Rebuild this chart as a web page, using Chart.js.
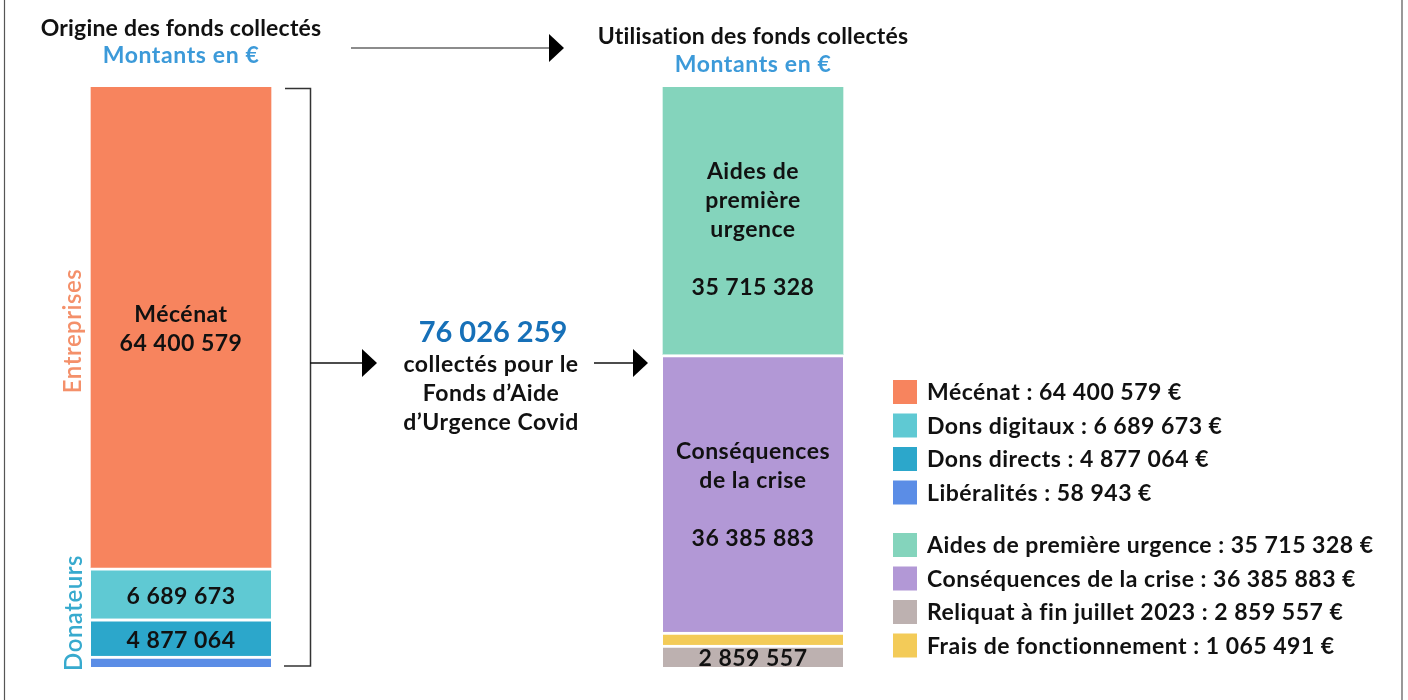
<!DOCTYPE html>
<html>
<head>
<meta charset="utf-8">
<script src="https://cdn.jsdelivr.net/npm/chart.js"></script>
<style>
  html, body { margin: 0; padding: 0; background: #fff; }
  #wrap { position: relative; width: 1408px; height: 700px; }
</style>
</head>
<body>
<div id="wrap"><canvas id="fondsChart" width="1408" height="700"></canvas></div>
<script>
// categories on the x axis (middle one is the empty slot for the total)
var categories = ['Origine des fonds collectés', '', 'Utilisation des fonds collectés'];

// origin of funds (bottom to top of the left bar)
var sourceLabels = ['Libéralités', 'Dons directs', 'Dons digitaux', 'Mécénat'];
var sourceValues = [58943, 4877064, 6689673, 64400579];
var sourceColors = ['#5b8de6', '#2ca7cb', '#5fc9d3', '#f7845e'];

// use of funds (bottom to top of the right bar)
var useLabels = ['Reliquat à fin juillet 2023', 'Frais de fonctionnement', 'Conséquences de la crise', 'Aides de première urgence'];
var useValues = [2859557, 1065491, 36385883, 35715328];
var useColors = ['#bdb1b0', '#f3cb58', '#b298d6', '#84d4bc'];

// text written inside the bars
var sourceInner = [null, null, null, 'Mécénat'];
var useInner = [null, null, 'Conséquences\nde la crise\n', 'Aides de\npremière\nurgence\n'];
var showValue = { 'Dons directs': true, 'Dons digitaux': true, 'Mécénat': true, 'Reliquat à fin juillet 2023': true, 'Conséquences de la crise': true, 'Aides de première urgence': true };

// legend order
var legendOrder = [['Mécénat', 'Dons digitaux', 'Dons directs', 'Libéralités'], ['Aides de première urgence', 'Conséquences de la crise', 'Reliquat à fin juillet 2023', 'Frais de fonctionnement']];

var total = sourceValues.reduce((a, b) => a + b, 0);

function fmt(n) {
    return String(n).replace(/\B(?=(\d{3})+(?!\d))/g, ' ');
}

var FONT = 'Lato, "Open Sans", sans-serif';
var TXT = 'bold 23px ' + FONT;

var datasets = [];
sourceLabels.forEach(function (l, i) {
    var last = i === sourceLabels.length - 1;
    datasets.push({
        label: l,
        data: [sourceValues[i], null, null],
        backgroundColor: sourceColors[i],
        borderColor: '#ffffff',
        borderWidth: { top: last ? 0 : 3, bottom: 0, left: 0, right: 0 },
        borderSkipped: false,
        minBarLength: i === 0 ? 11 : 0,
        inner: sourceInner[i],
        textShift: last ? 7 : 3
    });
});
useLabels.forEach(function (l, i) {
    var last = i === useLabels.length - 1;
    datasets.push({
        label: l,
        data: [null, null, useValues[i]],
        backgroundColor: useColors[i],
        borderColor: '#ffffff',
        borderWidth: { top: last ? 0 : 3, bottom: 0, left: 0, right: 0 },
        borderSkipped: false,
        minBarLength: i === 1 ? 13 : 0,
        inner: useInner[i],
        textShift: last ? 11 : 2
    });
});

function arrow(ctx, x1, x2, y, color) {
    ctx.save();
    ctx.strokeStyle = color;
    ctx.lineWidth = 1.6;
    ctx.beginPath();
    ctx.moveTo(x1, y);
    ctx.lineTo(x2 - 14, y);
    ctx.stroke();
    ctx.fillStyle = '#000';
    ctx.beginPath();
    ctx.moveTo(x2 - 15, y - 14);
    ctx.lineTo(x2, y);
    ctx.lineTo(x2 - 15, y + 14);
    ctx.closePath();
    ctx.fill();
    ctx.restore();
}

var decorPlugin = {
    id: 'decor',
    afterDatasetsDraw: function (chart) {
        var ctx = chart.ctx;
        ctx.save();
        ctx.fillStyle = '#111';
        ctx.textAlign = 'center';
        ctx.textBaseline = 'middle';
        ctx.font = TXT;
        ctx.letterSpacing = '0.5px';
        chart.data.datasets.forEach(function (ds, di) {
            var meta = chart.getDatasetMeta(di);
            meta.data.forEach(function (bar, idx) {
                if (ds.data[idx] == null) return;
                var lines = [];
                if (ds.inner) lines = ds.inner.split('\n');
                if (showValue[ds.label]) lines.push(fmt(ds.data[idx]));
                if (!lines.length) return;
                var lh = 29;
                var cy = (bar.y + bar.base) / 2 + ds.textShift;
                var y0 = cy - (lines.length - 1) * lh / 2;
                lines.forEach(function (t, k) {
                    ctx.fillText(t, bar.x, y0 + k * lh);
                });
            });
        });
        ctx.restore();
    },
    afterDraw: function (chart) {
        var ctx = chart.ctx;
        var xs = chart.scales.x;
        var xl = xs.getPixelForValue(0), xr = xs.getPixelForValue(2), xm = xs.getPixelForValue(1);
        ctx.save();

        // frame
        ctx.strokeStyle = '#555';
        ctx.lineWidth = 1.2;
        ctx.beginPath();
        ctx.moveTo(4.5, 0); ctx.lineTo(4.5, 700);
        ctx.moveTo(1402, 0); ctx.lineTo(1402, 700);
        ctx.stroke();

        // titles
        ctx.textAlign = 'center';
        ctx.textBaseline = 'middle';
        ctx.font = TXT;
        ctx.letterSpacing = '0.2px';
        ctx.fillStyle = '#111';
        ctx.fillText(categories[0], xl, 29);
        ctx.fillText(categories[2], xr, 37);
        ctx.fillStyle = '#3c9ad9';
        ctx.letterSpacing = '0.6px';
        ctx.fillText('Montants en €', xl, 56);
        ctx.fillText('Montants en €', xr, 65);

        // top arrow
        arrow(ctx, 351, 564, 48, '#666');

        // rotated group labels
        ctx.font = '600 24px ' + FONT;
        ctx.letterSpacing = '0.5px';
        ctx.save();
        ctx.translate(73, 331);
        ctx.rotate(-Math.PI / 2);
        ctx.fillStyle = '#f4906a';
        ctx.fillText('Entreprises', 0, 0);
        ctx.restore();
        ctx.save();
        ctx.translate(74, 613);
        ctx.rotate(-Math.PI / 2);
        ctx.fillStyle = '#37aace';
        ctx.fillText('Donateurs', 0, 0);
        ctx.restore();

        // bracket
        var top = chart.chartArea.top, bot = chart.chartArea.bottom;
        ctx.strokeStyle = '#333';
        ctx.lineWidth = 1.5;
        ctx.beginPath();
        ctx.moveTo(285, top + 1.5);
        ctx.lineTo(310.5, top + 1.5);
        ctx.lineTo(310.5, bot - 1);
        ctx.lineTo(284, bot - 1);
        ctx.stroke();

        // middle arrows and total
        arrow(ctx, 310, 377, 363, '#111');
        arrow(ctx, 594, 648, 363, '#111');
        ctx.fillStyle = '#1670b8';
        ctx.font = 'bold 29px ' + FONT;
        ctx.letterSpacing = '0px';
        ctx.fillText(fmt(total), xm + 26, 333);
        ctx.fillStyle = '#111';
        ctx.font = TXT;
        ctx.letterSpacing = '0.5px';
        ['collectés pour le', 'Fonds d\u2019Aide', 'd\u2019Urgence Covid'].forEach(function (t, k) {
            ctx.fillText(t, xm + 24, 365 + k * 29);
        });

        // legend
        var y = 392;
        ctx.textAlign = 'left';
        ctx.letterSpacing = '0.5px';
        legendOrder.forEach(function (group, g) {
            group.forEach(function (name) {
                var ds = chart.data.datasets.find(d => d.label === name);
                var v = ds.data.find(d => d != null);
                ctx.fillStyle = ds.backgroundColor;
                ctx.fillRect(893, y - 12, 24, 24);
                ctx.fillStyle = '#111';
                ctx.fillText(name + ' : ' + fmt(v) + ' €', 927, y + 1);
                y += 33.5;
            });
            y += 19;
        });
        ctx.restore();
    }
};

new Chart(document.getElementById('fondsChart'), {
    type: 'bar',
    data: { labels: categories, datasets: datasets },
    options: {
        responsive: false,
        animation: false,
        layout: { padding: { left: 38, right: 512, top: 87, bottom: 33 } },
        plugins: { legend: { display: false }, tooltip: { enabled: false } },
        datasets: { bar: { barThickness: 180 } },
        scales: {
            x: { stacked: true, display: false },
            y: { stacked: true, display: false, min: 0, max: total }
        }
    },
    plugins: [decorPlugin]
});
</script>
</body>
</html>
